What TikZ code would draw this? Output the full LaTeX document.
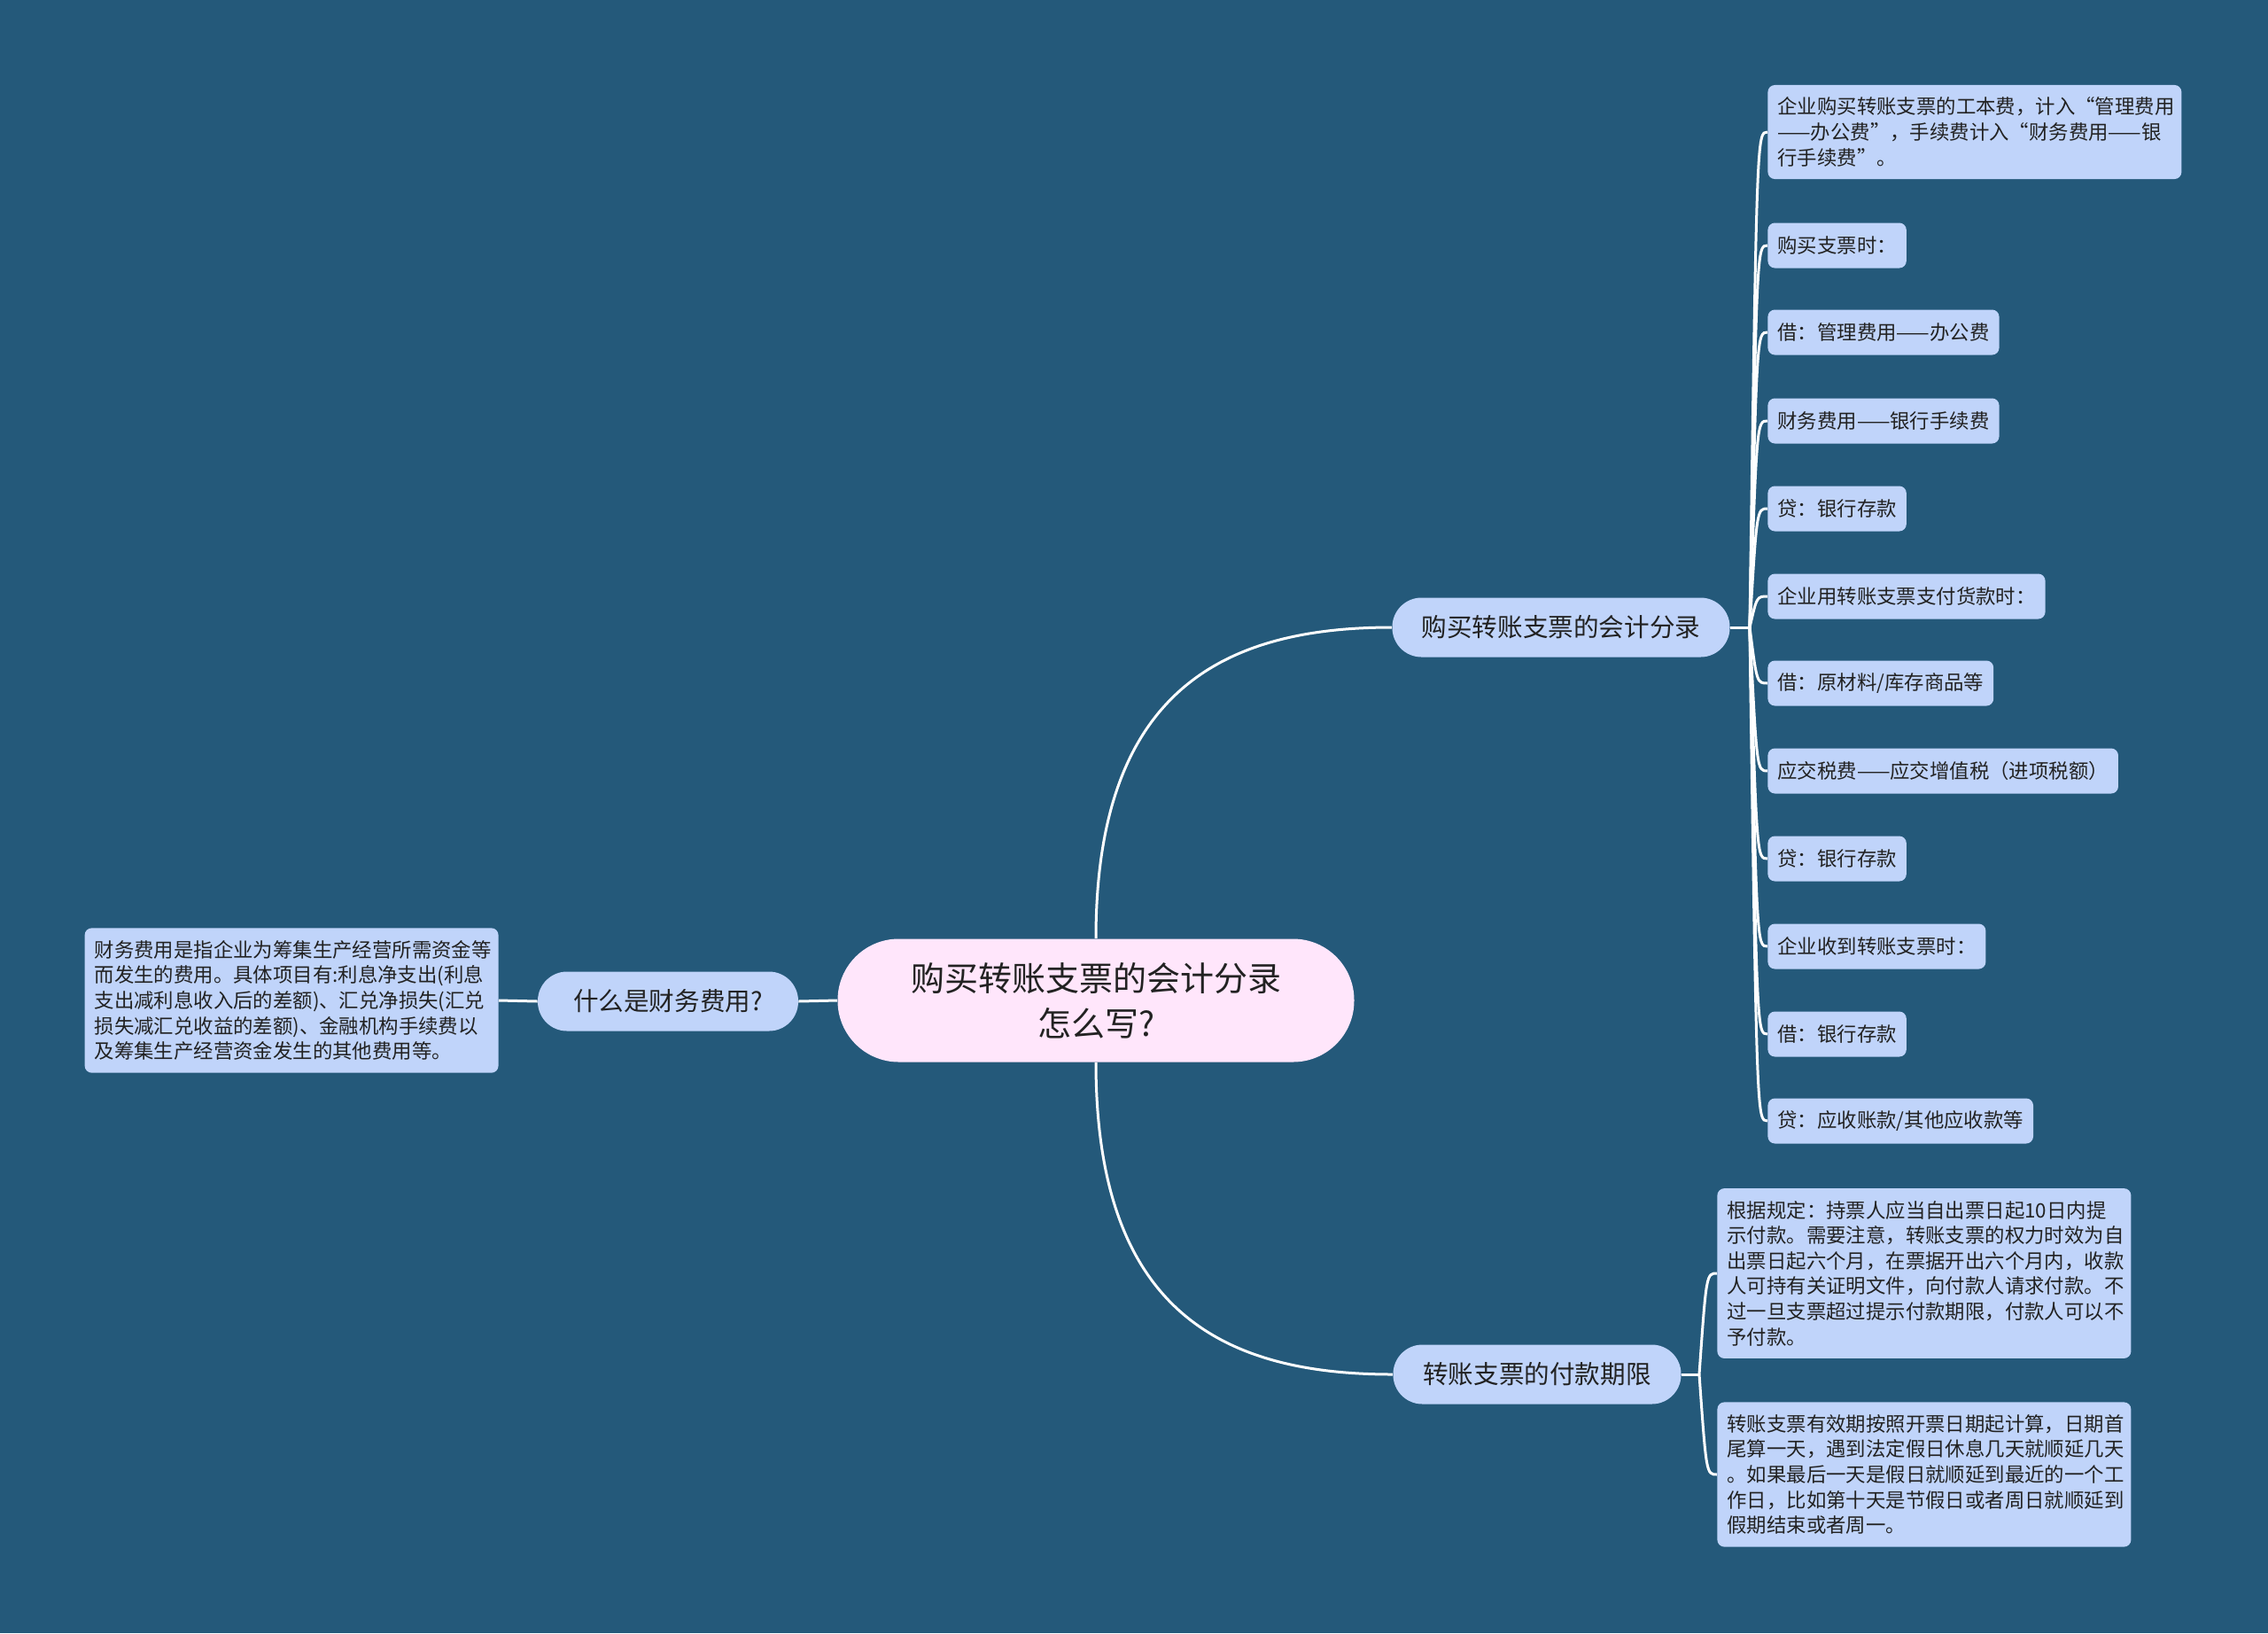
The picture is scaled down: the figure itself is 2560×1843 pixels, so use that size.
\documentclass[tikz,border=0pt]{standalone}
\usepackage{fontspec}
\setmainfont{Noto Sans CJK SC}
\usetikzlibrary{calc}

\definecolor{bgblue}{RGB}{36,89,122}
\definecolor{leafblue}{RGB}{192,212,250}
\definecolor{rootpink}{RGB}{255,230,251}
\definecolor{inkgray}{RGB}{34,34,34}

\begin{document}
\begin{tikzpicture}[
  x=0.5pt, y=-0.5pt,
  text=inkgray,
  rootbox/.style={fill=rootpink, rounded corners=34.5pt, minimum width=291.5pt, minimum height=69.5pt, inner sep=0pt, align=center, font=\fontsize{19}{25.3}\selectfont},
  branchbox/.style={fill=leafblue, rounded corners=16.5pt, minimum height=33.5pt, inner sep=0pt, font=\fontsize{14.3}{17}\selectfont},
  leafbox/.style={fill=leafblue, rounded corners=4pt, minimum height=25.5pt, inner xsep=5.5pt, inner ysep=7pt, align=left, font=\fontsize{11.2}{14.3}\selectfont},
  longbox/.style={leafbox, text width=222.5pt},
  wire/.style={draw=white, line width=1.5pt},
]

% Background and page size
\fill[bgblue] (0,0) rectangle (2560,1843);
\useasboundingbox (0,0) rectangle (2560,1843);

% Centre topic
\node[rootbox] (R) at (1237,1129) {购买转账支票的会计分录\\怎么写?};

% Left side: what is a finance cost
\node[branchbox, minimum width=147pt] (Q) at (754,1130) {什么是财务费用?};
\node[longbox, anchor=east] (QL) at (563,1129) {财务费用是指企业为筹集生产经营所需资金等\\而发生的费用。具体项目有:利息净支出(利息\\支出减利息收入后的差额)、汇兑净损失(汇兑\\损失减汇兑收益的差额)、金融机构手续费以\\及筹集生产经营资金发生的其他费用等。};

% Right side, upper branch: journal entries
\node[branchbox, minimum width=190.5pt] (B1) at (1762,708) {购买转账支票的会计分录};
\node[longbox, anchor=west] (L1)  at (1995,149)  {企业购买转账支票的工本费，计入“管理费用\\——办公费”，手续费计入“财务费用——银\\行手续费”。};
\node[leafbox, anchor=west] (L2)  at (1995,277)  {购买支票时：};
\node[leafbox, anchor=west] (L3)  at (1995,375)  {借：管理费用——办公费};
\node[leafbox, anchor=west] (L4)  at (1995,475)  {财务费用——银行手续费};
\node[leafbox, anchor=west] (L5)  at (1995,574)  {贷：银行存款};
\node[leafbox, anchor=west] (L6)  at (1995,673)  {企业用转账支票支付货款时：};
\node[leafbox, anchor=west] (L7)  at (1995,771)  {借：原材料/库存商品等};
\node[leafbox, anchor=west] (L8)  at (1995,870)  {应交税费——应交增值税（进项税额）};
\node[leafbox, anchor=west] (L9)  at (1995,969)  {贷：银行存款};
\node[leafbox, anchor=west] (L10) at (1995,1068) {企业收到转账支票时：};
\node[leafbox, anchor=west] (L11) at (1995,1167) {借：银行存款};
\node[leafbox, anchor=west] (L12) at (1995,1265) {贷：应收账款/其他应收款等};

% Right side, lower branch: payment period
\node[branchbox, minimum width=162.5pt] (B2) at (1735,1551) {转账支票的付款期限};
\node[longbox, anchor=west] (P1) at (1938,1437) {根据规定：持票人应当自出票日起10日内提\\示付款。需要注意，转账支票的权力时效为自\\出票日起六个月，在票据开出六个月内，收款\\人可持有关证明文件，向付款人请求付款。不\\过一旦支票超过提示付款期限，付款人可以不\\予付款。};
\node[longbox, anchor=west] (P2) at (1938,1664) {转账支票有效期按照开票日期起计算，日期首\\尾算一天，遇到法定假日休息几天就顺延几天\\。如果最后一天是假日就顺延到最近的一个工\\作日，比如第十天是节假日或者周日就顺延到\\假期结束或者周一。};

% Junctions
\coordinate (J1) at (1975,708);
\coordinate (J2) at (1918,1551);

% Wires from the centre
\draw[wire] (R.west) -- (Q.east);
\draw[wire] (Q.west) -- (QL.east);
\draw[wire] (R.north) .. controls (1237,780) and (1380,708) .. (B1.west);
\draw[wire] (R.south) .. controls (1237,1480) and (1380,1551) .. (B2.west);

% Wires to the entries
\draw[wire] (B1.east) -- (J1);
\draw[wire] (J1) .. controls (1983,149)  .. (L1.west);
\draw[wire] (J1) .. controls (1983,277)  .. (L2.west);
\draw[wire] (J1) .. controls (1983,375)  .. (L3.west);
\draw[wire] (J1) .. controls (1983,475)  .. (L4.west);
\draw[wire] (J1) .. controls (1983,574)  .. (L5.west);
\draw[wire] (J1) .. controls (1983,673)  .. (L6.west);
\draw[wire] (J1) .. controls (1983,771)  .. (L7.west);
\draw[wire] (J1) .. controls (1983,870)  .. (L8.west);
\draw[wire] (J1) .. controls (1983,969)  .. (L9.west);
\draw[wire] (J1) .. controls (1983,1068) .. (L10.west);
\draw[wire] (J1) .. controls (1983,1167) .. (L11.west);
\draw[wire] (J1) .. controls (1983,1265) .. (L12.west);

% Wires to the payment notes
\draw[wire] (B2.east) -- (J2);
\draw[wire] (J2) .. controls (1926,1437) .. (P1.west);
\draw[wire] (J2) .. controls (1926,1664) .. (P2.west);

\end{tikzpicture}
\end{document}
